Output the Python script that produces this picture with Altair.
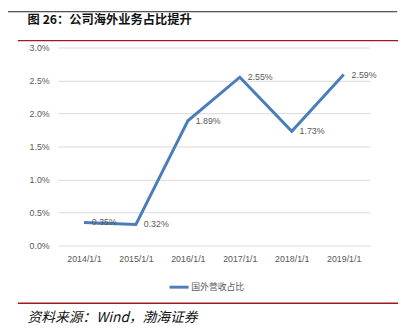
import altair as alt
import pandas as pd

years = ["2014/1/1", "2015/1/1", "2016/1/1", "2017/1/1", "2018/1/1", "2019/1/1"]
values = [0.0035, 0.0032, 0.0189, 0.0255, 0.0173, 0.0259]
series_name = "国外营收占比"
title_text = "图 26：公司海外业务占比提升"
source_text = "资料来源：Wind，渤海证券"
y_ticks = [0, 0.005, 0.01, 0.015, 0.02, 0.025, 0.03]

df = pd.DataFrame({"year": years, "value": values, "series": [series_name] * len(years)})
dummy = pd.DataFrame({"a": [0]})

BLUE = "#4a7ebb"
RED = "#9b1c20"
GRAY = "#595959"

x = alt.X("year:N", sort=years, title=None,
          scale=alt.Scale(type="point", padding=0.5),
          axis=alt.Axis(labelAngle=0, ticks=False, domain=False, labelPadding=9,
                        labelFont="Liberation Sans", labelFontSize=9, labelColor=GRAY))
y = alt.Y("value:Q", title=None,
          scale=alt.Scale(domain=[0, 0.03], nice=False),
          axis=alt.Axis(values=y_ticks, format=".1%", ticks=False, domain=False,
                        labelOverlap=False, labelPadding=9, labelFont="Liberation Sans",
                        labelFontSize=9, labelColor=GRAY, gridColor="#d9d9d9", gridWidth=1))

line = alt.Chart(df).mark_line(strokeWidth=3, color=BLUE).encode(
    x=x, y=y,
    color=alt.Color("series:N", scale=alt.Scale(range=[BLUE]), title=None,
                    legend=alt.Legend(orient="none", legendX=112, legendY=233,
                                      symbolType="stroke", symbolStrokeWidth=3,
                                      symbolSize=380, labelFont="Noto Sans CJK SC",
                                      labelFontSize=9, labelColor=GRAY, labelOffset=1))
)

labels = alt.Chart(df).mark_text(align="left", baseline="middle", dx=8,
                                 font="Liberation Sans", fontSize=9, color=GRAY).encode(
    x=x, y=y, text=alt.Text("value:Q", format=".2%")
)

top_line = alt.Chart(dummy).mark_rule(color="#222222", strokeWidth=1).encode(
    x=alt.value(-51), x2=alt.value(346), y=alt.value(-36.5))
red_top = alt.Chart(dummy).mark_rule(color=RED, strokeWidth=1.5).encode(
    x=alt.value(-41), x2=alt.value(347), y=alt.value(-7))
red_bottom = alt.Chart(dummy).mark_rule(color=RED, strokeWidth=1.5).encode(
    x=alt.value(-41), x2=alt.value(347), y=alt.value(261))
title = alt.Chart(dummy).mark_text(text=title_text, align="left", baseline="middle",
                                   font="Noto Sans CJK SC", fontSize=12.5, fontWeight="bold",
                                   color="#111111").encode(x=alt.value(-31), y=alt.value(-28))
source = alt.Chart(dummy).mark_text(text=source_text, align="left", baseline="middle",
                                    font="Noto Sans CJK SC", fontSize=14, fontStyle="italic",
                                    color="#111111").encode(x=alt.value(-31), y=alt.value(276))

chart = alt.layer(line, labels, top_line, red_top, red_bottom, title, source).properties(
    width=318, height=202,
    autosize=alt.AutoSizeParams(type="none"),
    padding={"left": 51, "top": 37, "right": 36, "bottom": 88},
).configure_view(stroke=None)

chart.save("out.html", embed_options={"renderer": "svg", "actions": False})
